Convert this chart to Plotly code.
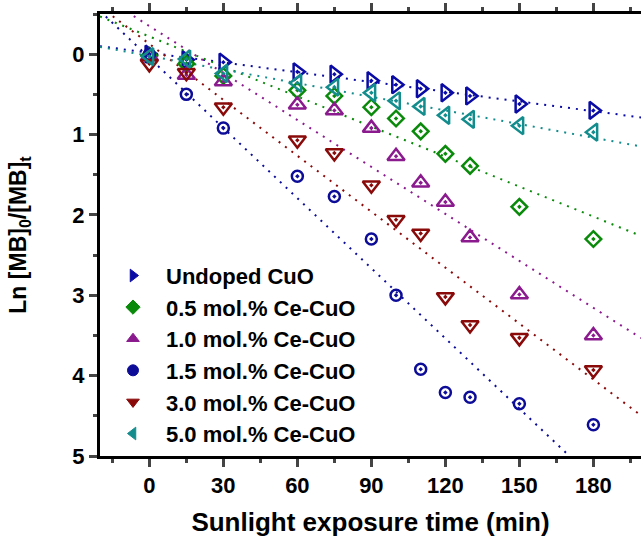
import plotly.graph_objects as go

# Irradiation times (min)
time_min = [0, 15, 30, 60, 75, 90, 100, 110, 120, 130, 150, 180]

series_names = [
    "Undoped CuO",
    "0.5 mol.% Ce-CuO",
    "1.0 mol.% Ce-CuO",
    "1.5 mol.% Ce-CuO",
    "3.0 mol.% Ce-CuO",
    "5.0 mol.% Ce-CuO",
]

# ln([MB]0/[MB]t) for each sample
undoped = [0.00, 0.07, 0.10, 0.22, 0.25, 0.33, 0.38, 0.43, 0.48, 0.52, 0.62, 0.70]
ce_05 = [0.02, 0.12, 0.27, 0.45, 0.52, 0.66, 0.80, 0.96, 1.24, 1.39, 1.90, 2.30]
ce_10 = [0.03, 0.26, 0.34, 0.63, 0.70, 0.92, 1.27, 1.60, 1.84, 2.28, 2.99, 3.50]
ce_15 = [0.00, 0.50, 0.92, 1.52, 1.77, 2.30, 3.00, 3.92, 4.21, 4.27, 4.35, 4.61]
ce_30 = [0.12, 0.23, 0.66, 1.07, 1.23, 1.63, 2.06, 2.23, 3.02, 3.37, 3.53, 3.93]
ce_50 = [0.03, 0.06, 0.24, 0.36, 0.41, 0.48, 0.58, 0.65, 0.76, 0.81, 0.89, 0.97]

# Linear pseudo-first-order fits: y = intercept + slope * t
fit_slope = [0.00404, 0.01245, 0.01948, 0.0291, 0.0232, 0.00565]
fit_intercept = [-0.018, -0.22, -0.35, 0.045, -0.128, 0.022]

colors = ["#0a0aa4", "#0a8a0a", "#8a1a8e", "#0c0c98", "#8a0a0a", "#128c8c"]
open_symbols = ["triangle-right-open-dot", "diamond-open-dot", "triangle-up-open-dot",
                "circle-open-dot", "triangle-down-open-dot", "triangle-left-open-dot"]
legend_symbols = ["triangle-right", "diamond", "triangle-up",
                  "circle", "triangle-down", "triangle-left"]
marker_sizes = [15, 12, 15, 11, 15, 15]

x_range = [-20, 199.3]
y_series = [undoped, ce_05, ce_10, ce_15, ce_30, ce_50]

FONT = "Liberation Sans, Arial, sans-serif"

fig = go.Figure()

# dotted fit lines across the whole axis span
for k in range(len(series_names)):
    xs = list(x_range)
    ys = [fit_intercept[k] + fit_slope[k] * t for t in xs]
    fig.add_trace(go.Scatter(
        x=xs, y=ys, mode="lines", showlegend=False, hoverinfo="skip",
        line=dict(color=colors[k], width=2, dash="2px,6px"),
    ))

# measured points
for k, name in enumerate(series_names):
    fig.add_trace(go.Scatter(
        x=time_min, y=y_series[k], mode="markers", name=name, showlegend=False,
        marker=dict(symbol=open_symbols[k], size=marker_sizes[k], color=colors[k],
                    line=dict(color=colors[k], width=2.5)),
        cliponaxis=False,
    ))

# legend entries with solid symbols
for k, name in enumerate(series_names):
    fig.add_trace(go.Scatter(
        x=[None], y=[None], mode="markers", name=name,
        marker=dict(symbol=legend_symbols[k], size=11, color=colors[k],
                    line=dict(color=colors[k], width=1)),
    ))

fig.update_layout(
    width=641, height=538,
    margin=dict(l=100, r=0, t=14, b=82),
    paper_bgcolor="white", plot_bgcolor="white",
    font=dict(family=FONT, size=22, color="black", weight="bold"),
    showlegend=True,
    legend=dict(
        x=0, y=0.4554, xanchor="left", yanchor="top",
        bgcolor="rgba(0,0,0,0)", itemwidth=56,
        font=dict(family=FONT, size=22, color="black", weight="bold"),
        tracegroupgap=0,
    ),
)

fig.update_xaxes(
    range=x_range, tick0=0, dtick=30, ticks="outside", ticklen=8, tickwidth=2.5,
    showline=True, linewidth=3, linecolor="black", mirror="ticks",
    showgrid=False, zeroline=False,
    tickfont=dict(family=FONT, size=22, weight="bold"),
    minor=dict(dtick=15, tick0=0, ticks="outside", ticklen=4, tickwidth=2.5),
    title=dict(text="Sunlight exposure time (min)", standoff=16,
               font=dict(family=FONT, size=26, weight="bold")),
)

fig.update_yaxes(
    range=[5, -0.5], tick0=0, dtick=1, ticks="outside", ticklen=8, tickwidth=2.5,
    showline=True, linewidth=3, linecolor="black", mirror=False,
    showgrid=False, zeroline=False,
    tickfont=dict(family=FONT, size=22, weight="bold"),
    minor=dict(dtick=0.5, tick0=0, ticks="outside", ticklen=4, tickwidth=2.5),
    title=dict(text="Ln [MB]<sub>0</sub>/[MB]<sub>t</sub>", standoff=40,
               font=dict(family=FONT, size=23, weight="bold")),
)

fig.write_html("out.html")
